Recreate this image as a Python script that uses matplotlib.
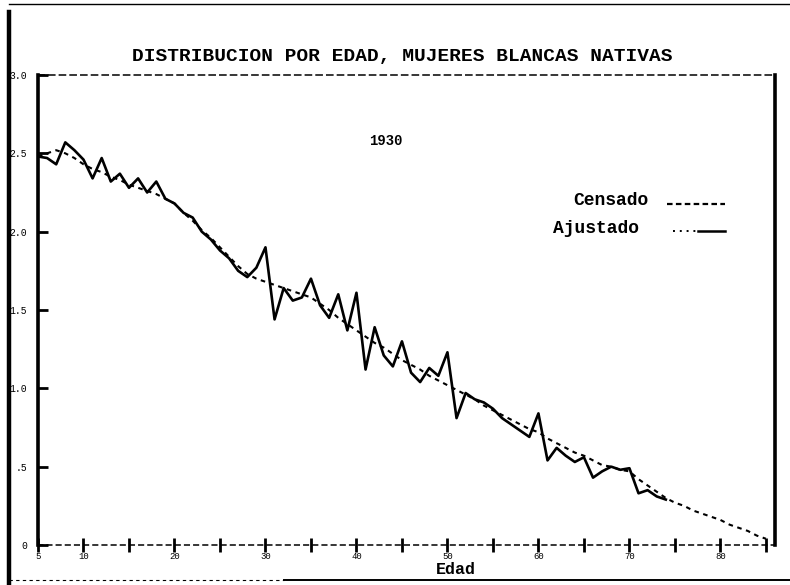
import matplotlib
matplotlib.use("Agg")
import matplotlib.pyplot as plt
from matplotlib.lines import Line2D

# ---------------- data ----------------
edad_censo = list(range(5, 75))
censado = [2.48, 2.47, 2.43, 2.57, 2.52, 2.46, 2.34, 2.47, 2.32, 2.37,
           2.28, 2.34, 2.25, 2.32, 2.21, 2.18, 2.12, 2.09, 2.00, 1.95,
           1.88, 1.83, 1.75, 1.71, 1.77, 1.90, 1.44, 1.64, 1.56, 1.58,
           1.70, 1.53, 1.45, 1.60, 1.37, 1.61, 1.12, 1.39, 1.21, 1.14,
           1.30, 1.10, 1.04, 1.13, 1.08, 1.23, 0.81, 0.97, 0.93, 0.91,
           0.87, 0.81, 0.77, 0.73, 0.69, 0.84, 0.54, 0.62, 0.57, 0.53,
           0.56, 0.43, 0.47, 0.50, 0.48, 0.49, 0.33, 0.35, 0.31, 0.29]

edad_ajuste = list(range(5, 86))
ajustado = [2.48, 2.50, 2.52, 2.50, 2.47, 2.43, 2.40, 2.38, 2.35, 2.33,
            2.30, 2.28, 2.26, 2.24, 2.21, 2.18, 2.12, 2.07, 2.01, 1.96,
            1.90, 1.84, 1.78, 1.73, 1.70, 1.68, 1.66, 1.64, 1.62, 1.60,
            1.58, 1.54, 1.50, 1.45, 1.41, 1.37, 1.33, 1.29, 1.26, 1.22,
            1.18, 1.15, 1.12, 1.08, 1.05, 1.02, 0.99, 0.96, 0.93, 0.89,
            0.86, 0.83, 0.80, 0.77, 0.74, 0.72, 0.68, 0.65, 0.62, 0.59,
            0.57, 0.54, 0.51, 0.50, 0.48, 0.47, 0.42, 0.38, 0.34, 0.30,
            0.27, 0.25, 0.22, 0.20, 0.18, 0.16, 0.13, 0.11, 0.09, 0.06,
            0.04]

x_ticks = list(range(5, 90, 5))
x_labels = ["5", "10", "", "20", "", "30", "", "40", "", "50", "", "60",
            "", "70", "", "80", ""]
y_ticks = [0, 0.5, 1.0, 1.5, 2.0, 2.5, 3.0]
y_labels = ["0", ".5", "1.0", "1.5", "2.0", "2.5", "3.0"]

titulo = "DISTRIBUCION POR EDAD, MUJERES BLANCAS NATIVAS"
anio = "1930"
xlab = "Edad"
leyenda = ["Censado", "Ajustado"]

MONO = ["Liberation Mono", "DejaVu Sans Mono"]

# ---------------- figure ----------------
W, H = 790, 585
fig = plt.figure(figsize=(W / 100, H / 100), dpi=100)
fig.patch.set_facecolor("white")

ax = fig.add_axes([38 / W, (H - 545) / H, (775 - 38) / W, (545 - 75) / H])
ax.set_xlim(5, 86)
ax.set_ylim(0, 3.0)

ax.plot(edad_censo, censado, color="black", lw=1.9,
        solid_joinstyle="round", zorder=3)
ax.plot(edad_ajuste, ajustado, color="black", lw=1.5,
        linestyle=(0, (2.2, 2.2)), zorder=2)

# spines
ax.spines["left"].set_linewidth(2.6)
ax.spines["right"].set_linewidth(2.6)
ax.spines["top"].set_linewidth(1.1)
ax.spines["top"].set_linestyle((0, (4, 3)))
ax.spines["bottom"].set_linewidth(1.1)
ax.spines["bottom"].set_linestyle((0, (3, 3)))

ax.set_xticks(x_ticks)
ax.set_xticklabels(x_labels, fontsize=6.5, family=MONO)
ax.set_yticks(y_ticks)
ax.set_yticklabels(y_labels, fontsize=7, family=MONO)
ax.tick_params(axis="x", direction="inout", length=10, width=2, pad=0)
ax.tick_params(axis="y", direction="in", length=7, width=2, pad=8)

# title and annotations
fig.text(402 / W, 1 - 56 / H, titulo, ha="center", va="center",
         fontsize=14, family=MONO, fontweight="bold")
ax.text(43.2, 2.58, anio, ha="center", va="center", fontsize=10,
        family=MONO, fontweight="bold")
fig.text(456 / W, 1 - 570 / H, xlab, ha="center", va="center",
         fontsize=12, family=MONO, fontweight="bold")

# manual legend
ax.text(0.828, 0.734, leyenda[0], transform=ax.transAxes, ha="right",
        va="center", fontsize=13, family=MONO, fontweight="bold")
ax.text(0.816, 0.674, leyenda[1], transform=ax.transAxes, ha="right",
        va="center", fontsize=13, family=MONO, fontweight="bold")
ax.add_line(Line2D([0.853, 0.932], [0.726, 0.726], transform=ax.transAxes,
                   color="black", lw=1.6, linestyle=(0, (2.5, 1.5))))
ax.add_line(Line2D([0.861, 0.895], [0.668, 0.668], transform=ax.transAxes,
                   color="black", lw=1.4, linestyle=(0, (1, 2.5))))
ax.add_line(Line2D([0.895, 0.932], [0.668, 0.668], transform=ax.transAxes,
                   color="black", lw=1.8))

# outer frame of the scanned page
fig.add_artist(Line2D([9 / W, 9 / W], [0, 1 - 12 / H], transform=fig.transFigure,
                      color="black", lw=3.2))
fig.add_artist(Line2D([9 / W, 1], [1 - 4 / H, 1 - 4 / H], transform=fig.transFigure,
                      color="black", lw=1.0))
fig.add_artist(Line2D([9 / W, 0.36], [1 - 580 / H, 1 - 580 / H],
                      transform=fig.transFigure, color="black", lw=0.8,
                      linestyle=(0, (3, 3))))
fig.add_artist(Line2D([0.36, 1], [1 - 580 / H, 1 - 580 / H],
                      transform=fig.transFigure, color="black", lw=1.4))

fig.savefig("out.png", dpi=100, facecolor="white")
